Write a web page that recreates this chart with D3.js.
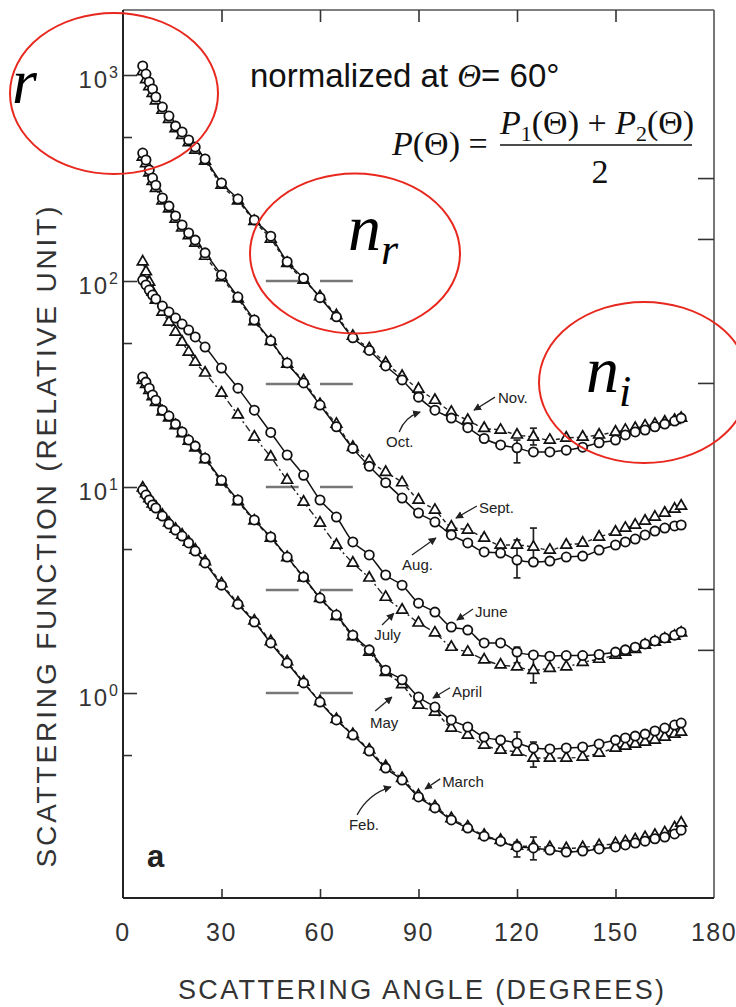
<!DOCTYPE html>
<html><head><meta charset="utf-8">
<script src="https://cdn.jsdelivr.net/npm/d3@7/dist/d3.min.js"></script>
<style>body{margin:0;background:#fff;} svg{display:block;}</style>
</head><body>
<script>
// ---------- DATA ----------
const angles = [6,7,8,9,10,12,14,16,18,20,22,25,30,35,40,45,50,55,60,65,70,75,80,85,90,95,100,105,110,115,120,125,130,135,140,145,150,153,156,159,162,165,168,170];

const octV  = [1106,1011,925,855,782,699,632,565,529,484,447,391,299,250,198,165,124,103,83,67,53,46,38.7,33.1,27.3,23.6,21.6,19.4,17.2,16.0,15.5,14.8,14.8,15.1,15.6,16.4,16.9,17.9,18.5,18.9,19.6,20.2,20.9,21.6];
const novV  = [1040,950,880,815,750,675,610,550,510,470,432,382,292,245,195,160,122,101,84,68,54,47,40,34.5,29.9,26.4,23.1,21.1,19.3,18.9,17.9,17.5,16.9,17.3,17.5,17.9,18.5,18.9,19.3,19.8,20.2,20.7,21.1,21.6];
const augV  = [418,387,346,316,292,253,231,207,187,171,158,137,107,83.6,64.7,51.3,40.0,32.0,25.0,19.6,15.4,12.6,10.5,8.84,7.48,6.76,5.85,5.35,4.84,4.78,4.42,4.32,4.37,4.57,4.62,4.94,5.23,5.41,5.59,5.85,6.11,6.32,6.47,6.54];
const septV = [400,372,335,305,282,245,224,200,181,166,153,132,104,82,63.5,51,39.5,32.8,25.2,20.2,15.6,13.4,11.8,10.5,8.65,7.73,6.40,6.18,5.66,5.23,5.23,5.11,4.94,5.23,5.35,5.72,6.05,6.32,6.54,6.84,7.15,7.48,7.82,8.09];
const juneV = [101,95.7,90.4,85.5,81.8,75.6,70.7,66.1,61.8,57.8,53.5,47.8,37.8,30.2,23.6,18.4,14.3,11.4,8.65,7.15,5.41,4.68,3.74,3.34,2.73,2.47,2.09,2.02,1.75,1.75,1.58,1.53,1.51,1.52,1.52,1.54,1.58,1.62,1.67,1.73,1.79,1.85,1.91,1.98];
const julyV = [124,111,98.9,88.4,80.9,70.7,63.2,56.5,50.6,45.2,40.4,35.8,28.6,22.4,17.5,14.0,10.8,8.46,6.69,5.23,4.28,3.62,2.92,2.53,2.19,1.96,1.67,1.58,1.45,1.37,1.34,1.29,1.32,1.34,1.41,1.46,1.53,1.58,1.63,1.71,1.77,1.83,1.89,1.96];
const aprilV = [34.2,32.3,30.2,28.0,26.4,23.6,22.1,20.2,18.5,16.9,15.8,13.8,10.8,8.65,6.92,5.72,4.57,3.66,2.89,2.39,1.91,1.62,1.29,1.16,0.956,0.855,0.740,0.684,0.611,0.591,0.572,0.541,0.535,0.541,0.547,0.566,0.591,0.605,0.618,0.632,0.654,0.676,0.699,0.715];
const mayV  = [33.0,31.5,29.5,27.5,25.8,23.2,21.7,19.9,18.2,16.7,15.5,13.6,10.6,8.5,6.85,5.65,4.55,3.62,2.88,2.36,1.88,1.58,1.26,1.10,0.874,0.809,0.676,0.625,0.559,0.529,0.517,0.484,0.484,0.484,0.489,0.511,0.541,0.553,0.566,0.578,0.591,0.611,0.632,0.647];
const febV  = [9.67,9.14,8.65,8.18,7.91,7.23,6.61,6.18,5.78,5.35,4.89,4.28,3.34,2.70,2.21,1.75,1.40,1.12,0.904,0.740,0.625,0.523,0.432,0.378,0.313,0.277,0.242,0.221,0.202,0.191,0.179,0.177,0.173,0.169,0.171,0.175,0.179,0.183,0.187,0.191,0.196,0.200,0.207,0.216];
const marchV = [9.9,9.3,8.8,8.3,8.0,7.3,6.7,6.25,5.85,5.4,4.95,4.35,3.4,2.74,2.24,1.78,1.42,1.13,0.91,0.745,0.63,0.53,0.44,0.385,0.318,0.281,0.246,0.224,0.204,0.193,0.181,0.180,0.178,0.176,0.178,0.182,0.186,0.190,0.194,0.199,0.204,0.210,0.222,0.234];

// error bars: [angle, low, high]
const errorBars = [[120,13.1,16.9],[125,16.0,19.3],[120,3.62,5.53],[125,4.32,6.32],[120,1.40,1.67],[125,1.12,1.50],[120,0.547,0.647],[125,0.437,0.578],[120,0.160,0.189],[125,0.155,0.200]];

// normalization markers at 60 deg
const normValues = [100, 31.6, 10, 3.16, 1];
const normSegments = [[43.5,53.5],[60,70]];

const xTicks = [0,30,60,90,120,150,180];
const yMajor = [0,1,2,3];             // exponents
const yMinor = [0.5,5,50,500];
const rightTicks = [316,160,32,3.2,1.62];

const monthLabels = ["Nov.","Oct.","Sept.","Aug.","June","July","April","May","March","Feb."];
const labelAngles = [114.2,80.1,108.4,85.0,107.2,76.5,100.2,75.2,97.2,68.8];
const labelValues = [25.6,15.6,7.48,3.95,2.34,1.81,0.956,0.676,0.350,0.216];
const arrowTail = [[113.3,27.3],[84.1,18.5],[107.8,8.09],[88.0,4.68],[106.6,2.56],[78.9,2.14],[99.6,1.06],[76.8,0.818],[96.6,0.383],[71.3,0.256]];
const arrowHead = [[106.9,23.6],[90.5,23.1],[101.4,7.07],[95.3,5.66],[101.7,2.26],[82.5,2.44],[94.4,0.946],[81.9,0.956],[92.0,0.342],[81.6,0.350]];
const arrowBend = [0,-7,0,0,0,0,0,0,0,-9];

// ---------- CHART ----------
const W = 736, H = 1007;
const svg = d3.select("body").append("svg").attr("width", W).attr("height", H);
svg.append("rect").attr("width", W).attr("height", H).attr("fill", "#fff");

const x = d3.scaleLinear().domain([0,180]).range([123,714]);
const y = d3.scaleLog().domain([Math.pow(10,-0.995), Math.pow(10,3.3155)]).range([898,10]);
const pTop = 10, pBottom = 898, pLeft = 123, pRight = 714;

const axisColor = "#333";
const textFont = "'Liberation Sans', Arial, sans-serif";

// frame
svg.append("line").attr("x1",pLeft).attr("x2",pRight).attr("y1",pTop).attr("y2",pTop).attr("stroke","#555").attr("stroke-width",1.6);
svg.append("line").attr("x1",pRight).attr("x2",pRight).attr("y1",pTop).attr("y2",pBottom).attr("stroke","#555").attr("stroke-width",1.6);

// axes with inward ticks
const gBottom = svg.append("g").attr("transform",`translate(0,${pBottom})`)
  .call(d3.axisBottom(x).tickValues([30,60,90,120,150]).tickSize(-9).tickFormat(""));
const gTop = svg.append("g").attr("transform",`translate(0,${pTop})`)
  .call(d3.axisTop(x).tickValues([30,60,90,120,150]).tickSize(-12).tickFormat(""));
const gLeft = svg.append("g").attr("transform",`translate(${pLeft},0)`)
  .call(d3.axisLeft(y).tickValues(yMajor.map(e=>Math.pow(10,e))).tickSize(-14).tickFormat(""));
const gLeftMinor = svg.append("g").attr("transform",`translate(${pLeft},0)`)
  .call(d3.axisLeft(y).tickValues(yMinor).tickSize(-9).tickFormat(""));
const gRight = svg.append("g").attr("transform",`translate(${pRight},0)`)
  .call(d3.axisRight(y).tickValues(rightTicks).tickSize(-16).tickFormat(""));
[gBottom,gTop,gLeft,gLeftMinor,gRight].forEach(g=>{
  g.selectAll(".domain").remove();
  g.selectAll(".tick line").attr("stroke",axisColor).attr("stroke-width",1.6);
});
svg.append("line").attr("x1",pLeft).attr("x2",pLeft).attr("y1",pTop).attr("y2",pBottom).attr("stroke","#222").attr("stroke-width",2);
svg.append("line").attr("x1",pLeft).attr("x2",pRight).attr("y1",pBottom).attr("y2",pBottom).attr("stroke","#222").attr("stroke-width",2);

// x tick labels
svg.append("g").selectAll("text").data(xTicks).join("text")
  .attr("x",d=>x(d)).attr("y",941).attr("text-anchor","middle")
  .attr("font-family",textFont).attr("font-size",25).attr("letter-spacing",1.5).attr("fill","#333").text(d=>d);

// y tick labels 10^n
yMajor.forEach(e=>{
  const t = svg.append("text").attr("x",118).attr("y",y(Math.pow(10,e))+13)
    .attr("text-anchor","end").attr("font-family",textFont).attr("fill","#333");
  t.append("tspan").attr("font-size",24).attr("letter-spacing",2).text("10");
  t.append("tspan").attr("font-size",16).attr("dy",-10).text(e);
});

// axis titles
svg.append("text").attr("transform","translate(56,537) rotate(-90)")
  .attr("text-anchor","middle").attr("font-family",textFont).attr("font-size",28)
  .attr("fill","#333").attr("textLength",661).attr("lengthAdjust","spacing")
  .text("SCATTERING FUNCTION (RELATIVE UNIT)");
svg.append("text").attr("x",421).attr("y",999).attr("text-anchor","middle")
  .attr("font-family",textFont).attr("font-size",27).attr("fill","#333")
  .attr("textLength",486).attr("lengthAdjust","spacing")
  .text("SCATTERING ANGLE (DEGREES)");

// normalization dashes
const gNorm = svg.append("g");
normValues.forEach(v=>{
  normSegments.forEach(s=>{
    gNorm.append("line").attr("x1",x(s[0])).attr("x2",x(s[1])).attr("y1",y(v)).attr("y2",y(v))
      .attr("stroke","#777").attr("stroke-width",2.5);
  });
});

// series
const pairs = [
  {c: octV,  t: novV,  tdash: "4,3"},
  {c: augV,  t: septV, tdash: "4,3"},
  {c: juneV, t: julyV, tdash: "7,3,2,3"},
  {c: aprilV,t: mayV,  tdash: "4,3"},
  {c: febV,  t: marchV,tdash: "4,3"}
];
const line = d3.line().x(d=>x(d[0])).y(d=>y(d[1])).curve(d3.curveMonotoneX);
const gLines = svg.append("g").attr("fill","none");
pairs.forEach(p=>{
  const cd = angles.map((a,i)=>[a,p.c[i]]);
  const td = angles.map((a,i)=>[a,p.t[i]]);
  gLines.append("path").attr("d",line(td)).attr("stroke","#222").attr("stroke-width",1.4).attr("stroke-dasharray",p.tdash);
  gLines.append("path").attr("d",line(cd)).attr("stroke","#111").attr("stroke-width",1.5);
});

// error bars
const gErr = svg.append("g").attr("stroke","#222").attr("stroke-width",1.7);
errorBars.forEach(e=>{
  const xx = x(e[0]);
  gErr.append("line").attr("x1",xx).attr("x2",xx).attr("y1",y(e[1])).attr("y2",y(e[2]));
  gErr.append("line").attr("x1",xx-3.5).attr("x2",xx+3.5).attr("y1",y(e[1])).attr("y2",y(e[1]));
  gErr.append("line").attr("x1",xx-3.5).attr("x2",xx+3.5).attr("y1",y(e[2])).attr("y2",y(e[2]));
});

// markers
const gMark = svg.append("g");
const tri = d3.symbol().type(d3.symbolTriangle).size(50);
pairs.forEach(p=>{
  angles.forEach((a,i)=>{
    gMark.append("path").attr("d",tri()).attr("transform",`translate(${x(a)},${y(p.t[i])})`)
      .attr("fill","#fff").attr("stroke","#111").attr("stroke-width",1.7);
  });
  angles.forEach((a,i)=>{
    gMark.append("circle").attr("cx",x(a)).attr("cy",y(p.c[i])).attr("r",4.6)
      .attr("fill","#fff").attr("stroke","#111").attr("stroke-width",1.8);
  });
});

// month labels and arrows
const defs = svg.append("defs");
defs.append("marker").attr("id","ah").attr("viewBox","0 0 10 10").attr("refX",9).attr("refY",5)
  .attr("markerWidth",6).attr("markerHeight",6).attr("orient","auto")
  .append("path").attr("d","M0,0 L10,5 L0,10 z").attr("fill","#222");
monthLabels.forEach((m,i)=>{
  svg.append("text").attr("x",x(labelAngles[i])).attr("y",y(labelValues[i]))
    .attr("font-family",textFont).attr("font-size",15).attr("fill","#222").text(m);
  const x1 = x(arrowTail[i][0]), y1 = y(arrowTail[i][1]);
  const x2 = x(arrowHead[i][0]), y2 = y(arrowHead[i][1]);
  const mx=(x1+x2)/2, my=(y1+y2)/2, dx=x2-x1, dy=y2-y1, L=Math.hypot(dx,dy);
  const cx = mx + arrowBend[i]*(-dy/L), cy = my + arrowBend[i]*(dx/L);
  svg.append("path").attr("d",`M${x1},${y1} Q${cx},${cy} ${x2},${y2}`)
    .attr("fill","none").attr("stroke","#222").attr("stroke-width",1.3).attr("marker-end","url(#ah)");
});

// panel letter
svg.append("text").attr("x",147).attr("y",867).attr("font-family",textFont)
  .attr("font-weight","bold").attr("font-size",31).attr("fill","#222").text("a");

// annotation texts
const serif = "'Liberation Serif', 'Times New Roman', serif";
const t1 = svg.append("text").attr("x",250).attr("y",87).attr("font-family",textFont).attr("font-size",33).attr("fill","#111");
t1.append("tspan").text("normalized at ");
t1.append("tspan").attr("font-family",serif).attr("font-style","italic").text("Θ");
t1.append("tspan").text("= 60°");

const f1 = svg.append("text").attr("x",392).attr("y",155).attr("font-family",serif).attr("font-size",34).attr("fill","#111");
f1.append("tspan").attr("font-style","italic").text("P");
f1.append("tspan").text("(Θ) =");
const f2 = svg.append("text").attr("x",500).attr("y",134).attr("font-family",serif).attr("font-size",34).attr("fill","#111");
f2.append("tspan").attr("font-style","italic").text("P");
f2.append("tspan").attr("font-size",22).attr("dy",7).text("1");
f2.append("tspan").attr("dy",-7).text("(Θ) + ");
f2.append("tspan").attr("font-style","italic").text("P");
f2.append("tspan").attr("font-size",22).attr("dy",7).text("2");
f2.append("tspan").attr("dy",-7).text("(Θ)");
svg.append("line").attr("x1",500).attr("x2",692).attr("y1",145).attr("y2",145).attr("stroke","#111").attr("stroke-width",1.6);
svg.append("text").attr("x",600).attr("y",183).attr("text-anchor","middle").attr("font-family",serif).attr("font-size",34).attr("fill","#111").text("2");

// red ellipses with labels
const red = "#e8281e";
[[114,93.5,104,80.5],[355,253.5,105,80],[644,382.5,105,80.5]].forEach(e=>{
  svg.append("ellipse").attr("cx",e[0]).attr("cy",e[1]).attr("rx",e[2]).attr("ry",e[3])
    .attr("fill","none").attr("stroke",red).attr("stroke-width",2);
});
svg.append("text").attr("x",12).attr("y",103).attr("font-family",serif).attr("font-style","italic").attr("font-size",64).attr("fill","#000").text("r");
const nr = svg.append("text").attr("x",348).attr("y",250).attr("font-family",serif).attr("font-style","italic").attr("font-size",66).attr("fill","#000");
nr.append("tspan").text("n");
nr.append("tspan").attr("font-size",44).attr("dy",14).text("r");
const ni = svg.append("text").attr("x",586).attr("y",392).attr("font-family",serif).attr("font-style","italic").attr("font-size",66).attr("fill","#000");
ni.append("tspan").text("n");
ni.append("tspan").attr("font-size",44).attr("dy",14).text("i");
</script>
</body></html>
